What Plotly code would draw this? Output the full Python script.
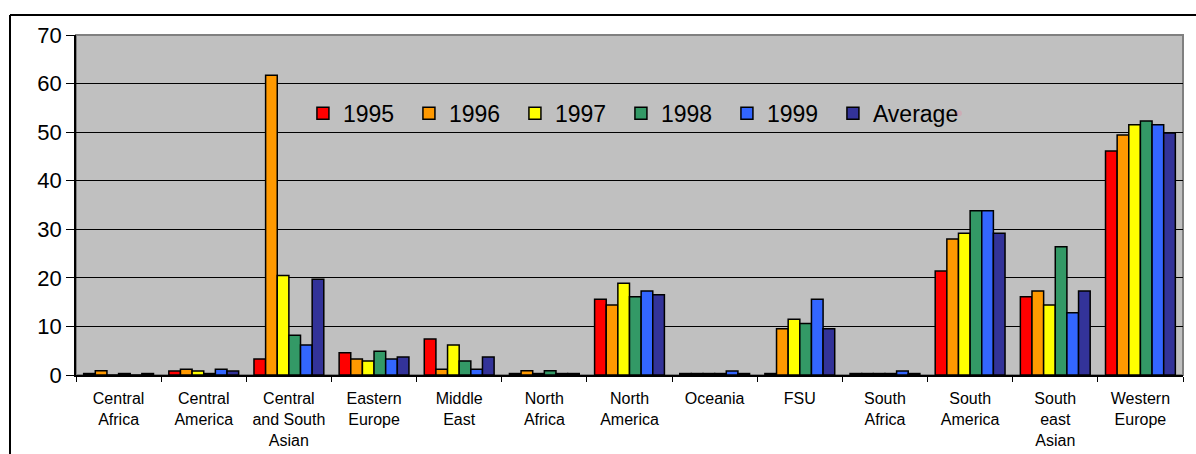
import plotly.graph_objects as go

regions = [
    "Central<br>Africa", "Central<br>America", "Central<br>and South<br>Asian",
    "Eastern<br>Europe", "Middle<br>East", "North<br>Africa", "North<br>America",
    "Oceania", "FSU", "South<br>Africa", "South<br>America",
    "South<br>east<br>Asian", "Western<br>Europe",
]

y1995 = [0.3, 0.8, 3.3, 4.6, 7.4, 0.3, 15.6, 0.3, 0.3, 0.3, 21.4, 16.1, 46.1]
y1996 = [0.9, 1.2, 61.7, 3.3, 1.2, 0.9, 14.4, 0.3, 9.5, 0.3, 28.0, 17.3, 49.4]
y1997 = [0.0, 0.8, 20.5, 2.9, 6.2, 0.3, 18.9, 0.3, 11.5, 0.3, 29.2, 14.4, 51.5]
y1998 = [0.3, 0.3, 8.2, 4.9, 2.9, 0.9, 16.1, 0.3, 10.6, 0.3, 33.8, 26.4, 52.3]
y1999 = [0.0, 1.2, 6.2, 3.3, 1.2, 0.3, 17.3, 0.8, 15.6, 0.8, 33.8, 12.8, 51.5]
yavg = [0.3, 0.8, 19.7, 3.7, 3.7, 0.3, 16.5, 0.3, 9.5, 0.3, 29.2, 17.3, 49.8]

series = [
    ("1995", y1995, "#FF0000"),
    ("1996", y1996, "#FF9900"),
    ("1997", y1997, "#FFFF00"),
    ("1998", y1998, "#339966"),
    ("1999", y1999, "#3366FF"),
    ("Average", yavg, "#333399"),
]

W, H = 1196, 454
ml, mr, mt, mb = 76, 13, 35, 79

fig = go.Figure()
for name, vals, col in series:
    fig.add_bar(
        x=regions, y=vals, name=name,
        marker=dict(color=col, line=dict(color="#000", width=1.5)),
    )
# empty spacer entry so the last legend label isn't clipped
fig.add_scatter(x=[None], y=[None], name="", mode="markers",
                marker=dict(opacity=0), hoverinfo="skip")

pw = W - ml - mr
ph = H - mt - mb
# frame of the whole chart (cut off at right and bottom)
fx = (10 - ml) / pw
fy = 1 + (mt - 15) / ph

fig.update_layout(
    width=W, height=H,
    margin=dict(l=ml, r=mr, t=mt, b=mb, autoexpand=False),
    barmode="group", bargap=0.18, bargroupgap=0,
    paper_bgcolor="white", plot_bgcolor="#C0C0C0",
    font=dict(family="Liberation Sans, Arial", color="#000"),
    showlegend=True,
    legend=dict(
        orientation="h", x=0.205, xanchor="left", y=0.77, yanchor="middle",
        bgcolor="rgba(0,0,0,0)", font=dict(size=23),
        entrywidth=61, entrywidthmode="pixels", traceorder="normal",
    ),
    xaxis=dict(
        showline=True, linecolor="#000", linewidth=1.5,
        ticks="outside", tickson="boundaries", ticklen=5, tickcolor="#000",
        tickfont=dict(size=16), ticklabelstandoff=8, automargin=False,
        showgrid=False, fixedrange=True,
    ),
    yaxis=dict(
        range=[0, 70], dtick=10, showline=True, linecolor="#000", linewidth=1.5,
        ticks="outside", ticklen=8, tickcolor="#000", automargin=False,
        showgrid=True, gridcolor="#000", gridwidth=1.2,
        zeroline=False, tickfont=dict(size=22),
    ),
    shapes=[
        dict(type="rect", xref="paper", yref="paper", x0=0, x1=1, y0=0, y1=1,
             line=dict(color="#808080", width=2), layer="below"),
        dict(type="line", xref="paper", yref="paper", x0=fx, x1=1.2, y0=fy, y1=fy,
             line=dict(color="#000", width=2)),
        dict(type="line", xref="paper", yref="paper", x0=fx, x1=fx, y0=fy, y1=-0.5,
             line=dict(color="#000", width=2)),
    ],
)

fig.write_html("out.html", config={"displayModeBar": False},
               post_script="document.body.style.margin='0';")
